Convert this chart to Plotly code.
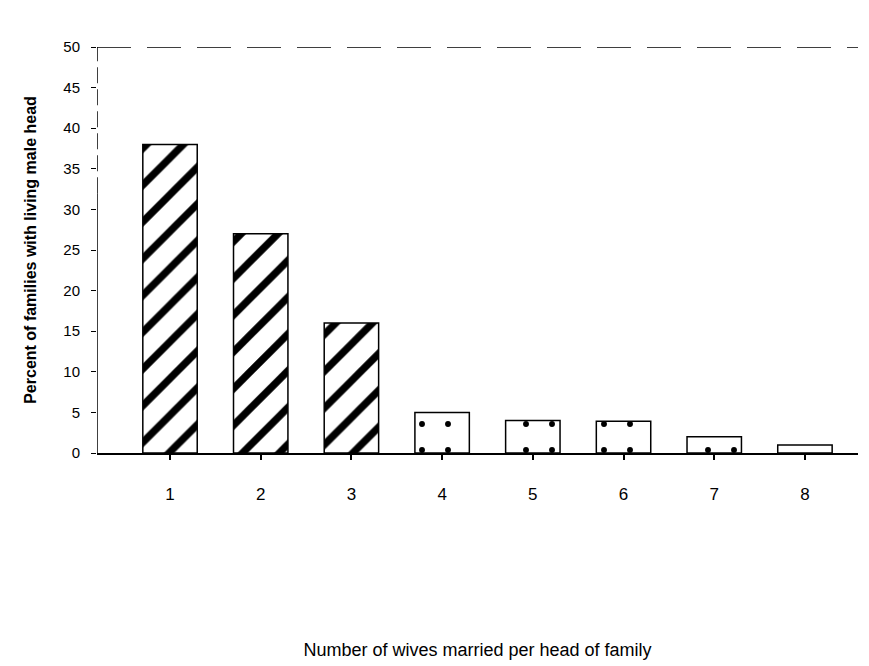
import plotly.graph_objects as go

categories = [1, 2, 3, 4, 5, 6, 7, 8]
tick_labels = ["1", "2", "3", "4", "5", "6", "7", "8"]
percent_values = [38, 27, 16, 5, 4.0, 3.9, 2, 1]
y_ticks = [0, 5, 10, 15, 20, 25, 30, 35, 40, 45, 50]

pattern_shapes = ["/", "/", "/", ".", ".", ".", ".", ""]
pattern_solidity = [0.28, 0.28, 0.28, 0.04, 0.04, 0.04, 0.04, 0.0]

FONT = "Liberation Sans, Arial, sans-serif"

fig = go.Figure()
fig.add_trace(go.Bar(
    x=categories,
    y=percent_values,
    width=0.6,
    marker=dict(
        color="white",
        line=dict(color="black", width=1.5),
        pattern=dict(shape=pattern_shapes, fgcolor="black", bgcolor="white",
                     fgopacity=1, size=26, solidity=pattern_solidity),
    ),
    showlegend=False,
))

x_lo, x_hi = 0.195, 8.585

# dashed top line at 50
fig.add_shape(type="line", xref="x", yref="y", x0=x_lo, x1=x_hi, y0=50, y1=50,
              line=dict(color="black", width=1.5, dash="34px,16px"))
# y axis line: dashed upper part, solid lower part
fig.add_shape(type="line", xref="x", yref="y", x0=x_lo, x1=x_lo, y0=32, y1=50,
              line=dict(color="black", width=1.5, dash="16px,6px"))
fig.add_shape(type="line", xref="x", yref="y", x0=x_lo, x1=x_lo, y0=0, y1=32,
              line=dict(color="black", width=1.5))

fig.update_layout(
    width=869, height=666,
    margin=dict(l=97, r=11, t=47, b=213),
    paper_bgcolor="white", plot_bgcolor="white",
    font=dict(family=FONT, color="black"),
    bargap=0.4,
)
fig.update_xaxes(
    range=[x_lo, x_hi], automargin=False,
    tickmode="array", tickvals=categories, ticktext=tick_labels,
    showgrid=False, zeroline=False,
    showline=True, linecolor="black", linewidth=1.5,
    ticks="outside", ticklen=5, tickwidth=1.5, tickcolor="black",
    ticklabelstandoff=20,
    tickfont=dict(size=17, family=FONT),
    title=dict(text="Number of wives married per head of family",
               font=dict(size=18, family=FONT), standoff=140),
)
fig.update_yaxes(
    range=[0, 50], automargin=False,
    tickmode="array", tickvals=y_ticks,
    showgrid=False, zeroline=False, showline=False,
    ticks="outside", ticklen=5, tickwidth=1, tickcolor="black",
    ticklabelstandoff=8,
    tickfont=dict(size=15, family=FONT),
    title=dict(text="<b>Percent of families with living male head</b>",
               font=dict(size=16, family=FONT), standoff=22),
)

fig.write_html("out.html")
